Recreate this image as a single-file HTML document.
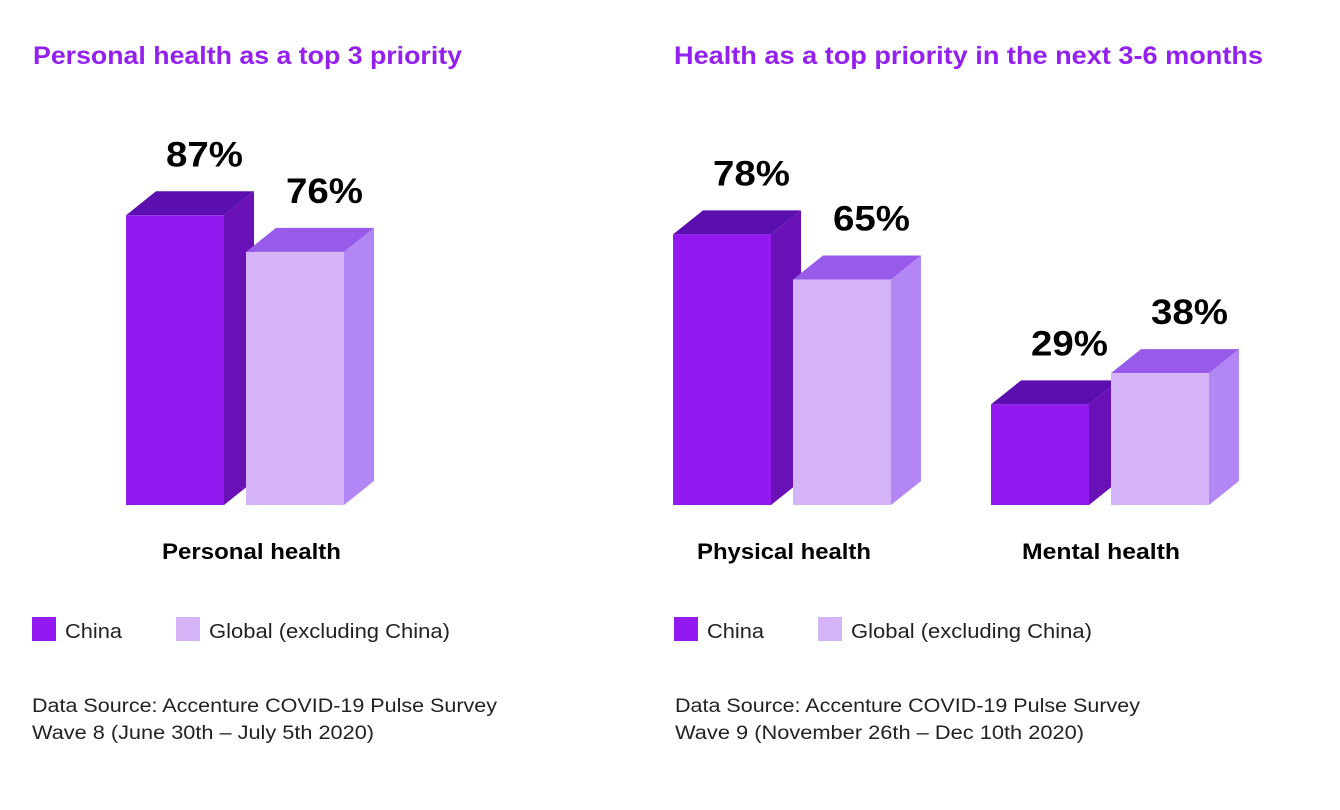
<!DOCTYPE html>
<html><head><meta charset="utf-8"><style>
html,body{margin:0;padding:0;background:#fff;width:1340px;height:810px;overflow:hidden}
svg{display:block;font-family:"Liberation Sans",sans-serif}
</style></head><body>
<svg id="c" width="1340" height="810" viewBox="0 0 1340 810">
<text x="33" y="64" font-size="25" font-weight="bold" fill="#9320ee" textLength="429" lengthAdjust="spacingAndGlyphs">Personal health as a top 3 priority</text>
<text x="674" y="64" font-size="25" font-weight="bold" fill="#9320ee" textLength="589" lengthAdjust="spacingAndGlyphs">Health as a top priority in the next 3-6 months</text>
<g id="bars"></g>
<text x="162" y="559" font-size="22" font-weight="bold" fill="#000" textLength="179" lengthAdjust="spacingAndGlyphs">Personal health</text>
<text x="697" y="559" font-size="22" font-weight="bold" fill="#000" textLength="174" lengthAdjust="spacingAndGlyphs">Physical health</text>
<text x="1022" y="559" font-size="22" font-weight="bold" fill="#000" textLength="158" lengthAdjust="spacingAndGlyphs">Mental health</text>
<g>
<rect x="32" y="617" width="24" height="24" fill="#9219f0"/>
<text x="65" y="638" font-size="20" fill="#222" textLength="57" lengthAdjust="spacingAndGlyphs">China</text>
<rect x="176" y="617" width="24" height="24" fill="#d4b3f7"/>
<text x="209" y="638" font-size="20" fill="#222" textLength="241" lengthAdjust="spacingAndGlyphs">Global (excluding China)</text>
</g>
<g>
<rect x="674" y="617" width="24" height="24" fill="#9219f0"/>
<text x="707" y="638" font-size="20" fill="#222" textLength="57" lengthAdjust="spacingAndGlyphs">China</text>
<rect x="818" y="617" width="24" height="24" fill="#d4b3f7"/>
<text x="851" y="638" font-size="20" fill="#222" textLength="241" lengthAdjust="spacingAndGlyphs">Global (excluding China)</text>
</g>
<text font-size="19" fill="#222"><tspan x="32" y="712" textLength="465" lengthAdjust="spacingAndGlyphs">Data Source: Accenture COVID-19 Pulse Survey</tspan><tspan x="32" y="739" textLength="342" lengthAdjust="spacingAndGlyphs">Wave 8 (June 30th – July 5th 2020)</tspan></text>
<text font-size="19" fill="#222"><tspan x="675" y="712" textLength="465" lengthAdjust="spacingAndGlyphs">Data Source: Accenture COVID-19 Pulse Survey</tspan><tspan x="675" y="739" textLength="409" lengthAdjust="spacingAndGlyphs">Wave 9 (November 26th – Dec 10th 2020)</tspan></text>
</svg>
<script>
const groups = ["Personal health","Physical health","Mental health"];
const chinaValues = [87,78,29];
const globalValues = [76,65,38];
const groupX = [126,673,991];
const groupScale = [3.33,3.47,3.47];
const baseY = 505, W = 98, gap = 22, dx = 30, dy = 24;
const NS = "http://www.w3.org/2000/svg";
const g = document.getElementById("bars");
const palettes = [
  {front:"#9219f0", top:"#5a0fae", side:"#6910b6"},
  {front:"#d4b3f7", top:"#985ae9", side:"#b386f6"}
];
function yScale(v, i){ return baseY - v*groupScale[i]; }
function mk(tag, attrs){ const e=document.createElementNS(NS,tag); for(const k in attrs) e.setAttribute(k,attrs[k]); g.appendChild(e); return e; }
groups.forEach((name,i)=>{
  [chinaValues[i], globalValues[i]].forEach((v,s)=>{
    const x = groupX[i] + s*(W+gap);
    const y = yScale(v,i);
    const p = palettes[s];
    const side = mk("polygon",{points:`${x+W},${y} ${x+W+dx},${y-dy} ${x+W+dx},${baseY-dy} ${x+W},${baseY}`,fill:p.side});
    
    
    const top = mk("polygon",{points:`${x},${y} ${x+dx},${y-dy} ${x+W+dx},${y-dy} ${x+W},${y}`,fill:p.top});
    
    
    const r = mk("rect",{x:x,y:y,width:W,height:baseY-y,fill:p.front});
    
    
    const cx = x+W/2+dx/2+14;
    const t = mk("text",{x:cx-38,y:y-dy-25,"font-size":35,"font-weight":"bold",fill:"#000",textLength:77,lengthAdjust:"spacingAndGlyphs"});
    t.textContent = v+"%";
    
    
  });
});
</script>
</body></html>
